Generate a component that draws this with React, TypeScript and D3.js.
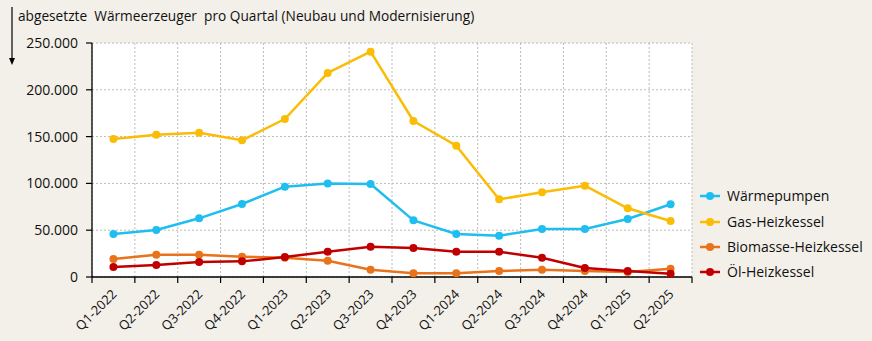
import React from "react";
import * as d3 from "d3";

const categories = ["Q1-2022","Q2-2022","Q3-2022","Q4-2022","Q1-2023","Q2-2023","Q3-2023","Q4-2023","Q1-2024","Q2-2024","Q3-2024","Q4-2024","Q1-2025","Q2-2025"];
const waermepumpen = [46000,50200,62700,78000,96500,100000,99400,60500,46000,44100,51300,51300,62000,77700];
const gas = [147400,152000,154200,146000,168800,218000,240700,166700,140300,83000,90500,97600,73400,59800];
const biomasse = [19200,23800,23800,21700,20600,17400,7800,4000,4000,6400,7800,6400,5300,8900];
const oel = [10700,12800,16000,16700,21400,27000,32400,31000,27000,27000,20600,9600,6400,3500];
const yTicks = [0,50000,100000,150000,200000,250000];
const seriesNames = ["Wärmepumpen","Gas-Heizkessel","Biomasse-Heizkessel","Öl-Heizkessel"];

const W = 872, H = 341;
const left = 92, right = 692, top = 43, bottom = 277;
const font = "Open Sans, sans-serif";

export default function App() {
  const x = d3.scaleBand().domain(categories).range([left, right]).padding(0);
  const y = d3.scaleLinear().domain([0, 250000]).range([bottom, top]);
  const cx = (c: string) => (x(c) as number) + x.bandwidth() / 2;
  const series = [
    { name: seriesNames[0], data: waermepumpen, color: "#1fbef0" },
    { name: seriesNames[1], data: gas, color: "#fbbc05" },
    { name: seriesNames[2], data: biomasse, color: "#e8731a" },
    { name: seriesNames[3], data: oel, color: "#c00000" },
  ];
  const line = d3.line<number>().x((_, i) => cx(categories[i])).y((v) => y(v));
  const fmt = (v: number) => d3.format(",")(v).replace(/,/g, ".");
  const boundaries = categories.map((c) => x(c) as number).concat([right]);
  const legendY = [196, 222, 247, 272];
  return (
    <svg width={W} height={H} style={{ position: "absolute", left: 0, top: 0, background: "#f3efe9" }} fontFamily={font}>
      <rect x={0} y={0} width={W} height={H} fill="#f3efe9" />
      <text x={18} y={21} fontSize={13.7} fill="#111" xmlSpace="preserve" style={{ whiteSpace: "pre" }}>
        {"abgesetzte  Wärmeerzeuger  pro Quartal (Neubau und Modernisierung)"}
      </text>
      <line x1={12} y1={7} x2={12} y2={60} stroke="#000" strokeWidth={1.2} />
      <path d="M9,58 L15,58 L12,65 Z" fill="#000" />
      <rect x={left} y={top} width={right - left} height={bottom - top} fill="#fff" />
      {yTicks.map((t) => (
        <line key={"h" + t} x1={left} x2={right} y1={y(t)} y2={y(t)} stroke="#bbb" strokeDasharray="2,2" strokeWidth={1} />
      ))}
      {boundaries.map((b, i) => (
        <line key={"v" + i} x1={b} x2={b} y1={top} y2={bottom} stroke="#bbb" strokeDasharray="2,2" strokeWidth={1} />
      ))}
      <line x1={left} x2={left} y1={top} y2={bottom} stroke="#000" strokeWidth={1.3} />
      <line x1={left} x2={right} y1={bottom} y2={bottom} stroke="#000" strokeWidth={1.3} />
      {yTicks.map((t) => (
        <g key={"yt" + t}>
          <line x1={left - 6} x2={left} y1={y(t)} y2={y(t)} stroke="#000" strokeWidth={1.2} />
          <text x={left - 14} y={y(t) + 5} fontSize={14} textAnchor="end" fill="#111">{fmt(t)}</text>
        </g>
      ))}
      {boundaries.map((b, i) => (
        <line key={"xt" + i} x1={b} x2={b} y1={bottom} y2={bottom + 6} stroke="#000" strokeWidth={1.2} />
      ))}
      {categories.map((c) => (
        <text key={c} transform={`translate(${cx(c) + 4},${bottom + 18}) rotate(-45)`} fontSize={13} textAnchor="end" fill="#111">{c}</text>
      ))}
      {series.map((s) => (
        <g key={s.name}>
          <path d={line(s.data) || ""} fill="none" stroke={s.color} strokeWidth={2.5} strokeLinejoin="round" />
          {s.data.map((v, i) => (
            <circle key={i} cx={cx(categories[i])} cy={y(v)} r={4} fill={s.color} />
          ))}
        </g>
      ))}
      {series.map((s, i) => (
        <g key={"lg" + s.name}>
          <line x1={700} x2={720} y1={legendY[i]} y2={legendY[i]} stroke={s.color} strokeWidth={2.5} />
          <circle cx={710} cy={legendY[i]} r={4} fill={s.color} />
          <text x={727} y={legendY[i] + 5} fontSize={14} fill="#111">{s.name}</text>
        </g>
      ))}
    </svg>
  );
}
